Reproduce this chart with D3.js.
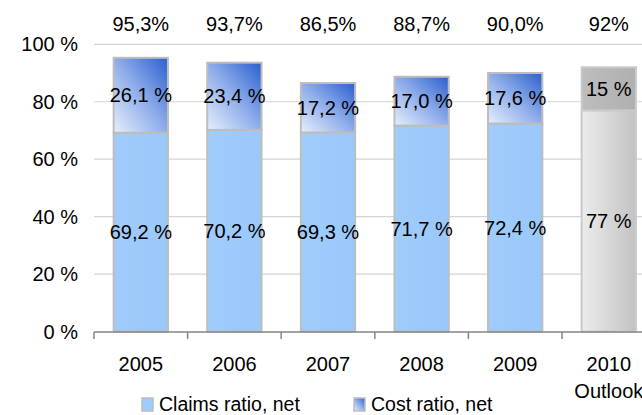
<!DOCTYPE html>
<html><head><meta charset="utf-8">
<script src="https://cdn.jsdelivr.net/npm/d3@7"></script>
<style>html,body{margin:0;padding:0;background:#fff;overflow:hidden}text{font-family:"Liberation Sans",Arial,sans-serif;fill:#000}</style>
</head><body>
<script>
const years = ["2005","2006","2007","2008","2009","2010"];
const subLabels = ["","","","","","Outlook"];
const claims = [69.2, 70.2, 69.3, 71.7, 72.4, 77];
const cost = [26.1, 23.4, 17.2, 17.0, 17.6, 15];
const claimsLabels = ["69,2 %","70,2 %","69,3 %","71,7 %","72,4 %","77 %"];
const costLabels = ["26,1 %","23,4 %","17,2 %","17,0 %","17,6 %","15 %"];
const totalLabels = ["95,3%","93,7%","86,5%","88,7%","90,0%","92%"];
const yTicks = [0,20,40,60,80,100];
const legendNames = ["Claims ratio, net","Cost ratio, net"];

const W = 642, H = 415;
const svg = d3.select("body").append("svg").attr("width", W).attr("height", H);
const defs = svg.append("defs");
function lg(id, x1,y1,x2,y2, stops){
  const g = defs.append("linearGradient").attr("id", id)
    .attr("x1",x1).attr("y1",y1).attr("x2",x2).attr("y2",y2);
  stops.forEach(s=>g.append("stop").attr("offset",s[0]).attr("stop-color",s[1]));
}
lg("gCost","0","1","1","0",[["0","#e6effb"],["0.5","#8fadea"],["1","#2a5fcf"]]);
lg("gClaims","0","0","1","0",[["0","#a0ccfb"],["1","#9ac8fa"]]);
lg("gOutClaims","0","0","1","0",[["0","#ececec"],["1","#c2c2c2"]]);
lg("gOutCost","0","0","1","0",[["0","#bdbdbd"],["1","#b0b0b0"]]);

const x = d3.scaleBand().domain(years).range([94, 94 + 6*93.6]).paddingInner(0.42).paddingOuter(0.21);
const y = d3.scaleLinear().domain([0,100]).range([331.5, 44.3]);

// gridlines
svg.append("g").selectAll("line").data(yTicks.slice(1)).join("line")
  .attr("x1", 94).attr("x2", W).attr("y1", d=>y(d)).attr("y2", d=>y(d))
  .attr("stroke","#d4d4d4").attr("stroke-width",1.2);

// y labels
svg.append("g").selectAll("text").data(yTicks).join("text")
  .attr("x", 78).attr("y", d=>y(d)+7).attr("text-anchor","end")
  .attr("font-size","20px").text(d=>d+" %");

// bars
const idx = d3.range(years.length);
const bw = x.bandwidth();
const bars = svg.append("g");
bars.selectAll("rect.claims").data(idx).join("rect").attr("class","claims")
  .attr("x", i=>x(years[i])).attr("width", bw)
  .attr("y", i=>y(claims[i])).attr("height", i=>y(0)-y(claims[i]))
  .attr("fill", i=> i===5 ? "url(#gOutClaims)" : "url(#gClaims)")
  .attr("stroke", i=> i===5 ? "#cacaca" : "#bdbdbd").attr("stroke-width",2);
bars.selectAll("rect.cost").data(idx).join("rect").attr("class","cost")
  .attr("x", i=>x(years[i])).attr("width", bw)
  .attr("y", i=>y(claims[i]+cost[i])).attr("height", i=>y(claims[i])-y(claims[i]+cost[i]))
  .attr("fill", i=> i===5 ? "url(#gOutCost)" : "url(#gCost)")
  .attr("stroke", i=> i===5 ? "#cacaca" : "#bdbdbd").attr("stroke-width",2);

// axis
const axisY = 332;
svg.append("line").attr("x1",94).attr("x2",W).attr("y1",axisY).attr("y2",axisY)
  .attr("stroke","#868686").attr("stroke-width",1.5);
const bounds = years.map(yy=>x(yy) - x.step()*x.paddingInner()/2 - 0);
svg.append("g").selectAll("line").data(years).join("line")
  .attr("x1", d=>x(d)-(x.step()-bw)/2).attr("x2", d=>x(d)-(x.step()-bw)/2)
  .attr("y1", axisY).attr("y2", axisY+7).attr("stroke","#868686").attr("stroke-width",1.5);

// labels
const lab = svg.append("g").attr("font-size","20px").attr("text-anchor","middle");
lab.selectAll("text.cl").data(idx).join("text").attr("class","cl")
  .attr("x", i=>x(years[i])+bw/2).attr("y", i=>y(claims[i]/2)+7).text(i=>claimsLabels[i]);
lab.selectAll("text.co").data(idx).join("text").attr("class","co")
  .attr("x", i=>x(years[i])+bw/2).attr("y", i=>y(claims[i]+cost[i]/2)+7).text(i=>costLabels[i]);
lab.selectAll("text.to").data(idx).join("text").attr("class","to")
  .attr("x", i=>x(years[i])+bw/2).attr("y", 31).text(i=>totalLabels[i]);
lab.selectAll("text.yr").data(idx).join("text").attr("class","yr")
  .attr("x", i=>x(years[i])+bw/2).attr("y", 371).text(i=>years[i]);
lab.selectAll("text.sub").data(idx).join("text").attr("class","sub")
  .attr("x", i=>x(years[i])+bw/2).attr("y", 398).text(i=>subLabels[i]);

// legend
const legX = [142, 354];
const legFill = ["#9dcbfb","url(#gCost)"];
const leg = svg.append("g");
legendNames.forEach((n,k)=>{
  leg.append("rect").attr("x",legX[k]).attr("y",398).attr("width",11).attr("height",13)
    .attr("fill",legFill[k]).attr("stroke","#bdbdbd").attr("stroke-width",1.5);
  leg.append("text").attr("x",legX[k]+17).attr("y",411).attr("font-size","19.5px").text(n);
});
</script>
</body></html>
